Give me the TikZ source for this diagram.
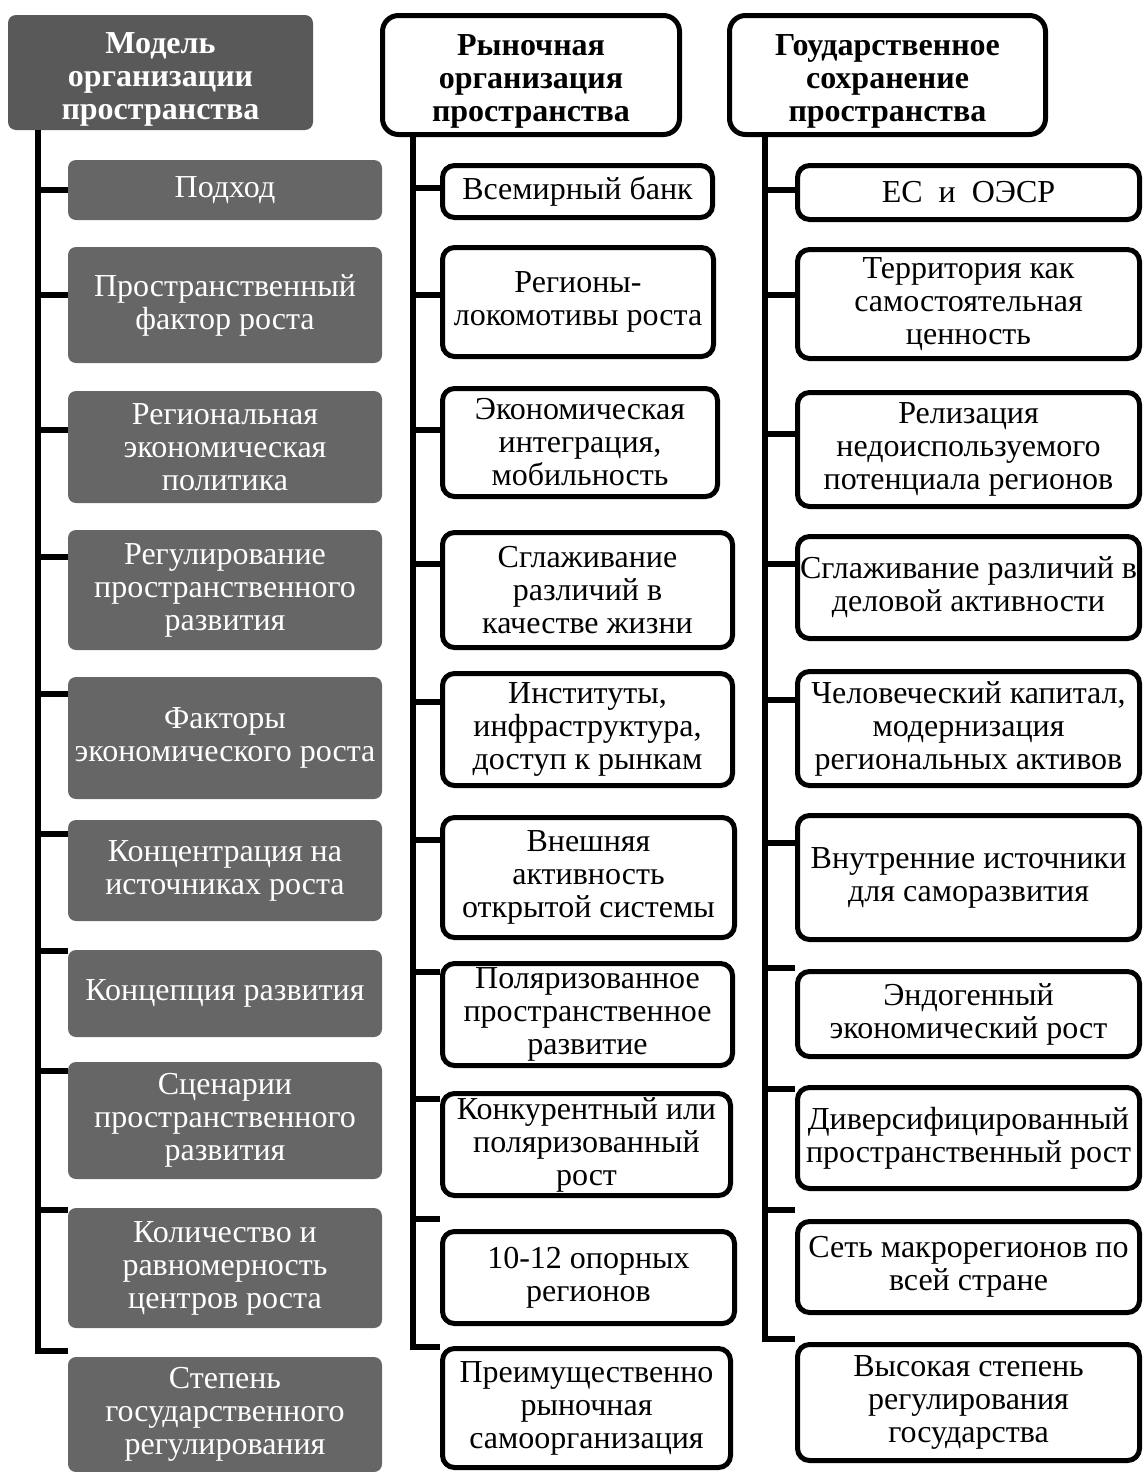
\documentclass[tikz,border=0pt]{standalone}
\usepackage{fontspec}
\setmainfont{Liberation Serif}
\definecolor{boxgrey}{RGB}{102,102,102}
\definecolor{headgrey}{RGB}{89,89,89}
\begin{document}
\begin{tikzpicture}[x=0.5pt,y=-0.5pt]
\tikzstyle{every node}+=[align=center,inner sep=0pt,font=\fontsize{16}{16.5}\selectfont]
\tikzstyle{gbox}=[fill=boxgrey,text=white,rounded corners=4pt]
\tikzstyle{ghead}=[gbox,fill=headgrey,font=\fontsize{16}{16.5}\selectfont\bfseries]
\tikzstyle{wbox}=[draw,line width=2.5pt,rounded corners=6pt]
\tikzstyle{whead}=[wbox,rounded corners=8pt,font=\fontsize{16}{16.5}\selectfont\bfseries]
\tikzstyle{trunk}=[line width=3pt]

\useasboundingbox (0,0) rectangle (1147,1472);

\node[ghead,minimum width=152.5pt,minimum height=57.5pt] (a0) at (160.5,72.5) {\rule{0pt}{17pt}Модель\\организации\\пространства};
\node[gbox,minimum width=157pt,minimum height=30pt]   (a1)  at (225,190)    {Подход};
\node[gbox,minimum width=157pt,minimum height=58pt]   (a2)  at (225,305)    {Пространственный\\фактор роста};
\node[gbox,minimum width=157pt,minimum height=56pt]   (a3)  at (225,447)    {Региональная\\экономическая\\политика};
\node[gbox,minimum width=157pt,minimum height=60pt]   (a4)  at (225,590)    {Регулирование\\пространственного\\развития};
\node[gbox,minimum width=157pt,minimum height=61pt]   (a5)  at (225,738)    {Факторы\\экономического роста};
\node[gbox,minimum width=157pt,minimum height=50.5pt] (a6)  at (225,870.5)  {Концентрация на\\источниках роста};
\node[gbox,minimum width=157pt,minimum height=43.5pt] (a7)  at (225,993.5)  {Концепция развития};
\node[gbox,minimum width=157pt,minimum height=58.5pt] (a8)  at (225,1120.5) {Сценарии\\пространственного\\развития};
\node[gbox,minimum width=157pt,minimum height=60pt]   (a9)  at (225,1268)   {Количество и\\равномерность\\центров роста};
\node[gbox,minimum width=157pt,minimum height=57.5pt] (a10) at (225,1414.5) {Степень\\государственного\\регулирования};

\node[whead,minimum width=148.5pt,minimum height=59.5pt] (b0) at (531,75) {\rule{0pt}{17pt}Рыночная\\организация\\пространства};
\node[wbox,minimum width=135pt,minimum height=26pt]   (b1)  at (577.5,191.5) {Всемирный банк};
\node[wbox,minimum width=135.5pt,minimum height=54.5pt] (b2) at (578,302)   {Регионы-\\локомотивы роста};
\node[wbox,minimum width=137.5pt,minimum height=54pt] (b3)  at (580,442.5)   {Экономическая\\интеграция,\\мобильность};
\node[wbox,minimum width=145pt,minimum height=57.5pt] (b4)  at (587.5,590)   {Сглаживание\\различий в\\качестве жизни};
\node[wbox,minimum width=145pt,minimum height=56pt]   (b5)  at (587.5,729.5) {Институты,\\инфраструктура,\\доступ к рынкам};
\node[wbox,minimum width=146pt,minimum height=60pt]   (b6)  at (588.5,877.5) {Внешняя\\активность\\открытой системы};
\node[wbox,minimum width=145pt,minimum height=51pt]   (b7)  at (587.5,1014.5) {Поляризованное\\пространственное\\развитие};
\node[wbox,minimum width=144pt,minimum height=51pt]   (b8)  at (586.5,1144.5) {Конкурентный или\\поляризованный\\рост};
\node[wbox,minimum width=146pt,minimum height=46pt]   (b9)  at (588.5,1277.5) {10-12 опорных\\регионов};
\node[wbox,minimum width=144pt,minimum height=59.5pt] (b10) at (586.5,1408)  {Преимущественно\\рыночная\\самоорганизация};

\node[whead,minimum width=158pt,minimum height=59.5pt] (c0) at (887.5,75) {\rule{0pt}{17pt}Гоударственное\\сохранение\\пространства};
\node[wbox,minimum width=171pt,minimum height=27pt]   (c1)  at (968.5,192.5) {ЕС\hspace{0.5em}и\hspace{0.5em}ОЭСР};
\node[wbox,minimum width=171pt,minimum height=54.5pt] (c2)  at (968.5,304)   {Территория как\\самостоятельная\\ценность};
\node[wbox,minimum width=171pt,minimum height=57pt]   (c3)  at (968.5,449.5) {Релизация\\недоиспользуемого\\потенциала регионов};
\node[wbox,minimum width=171pt,minimum height=51pt]   (c4)  at (968.5,587.5) {Сглаживание различий в\\деловой активности};
\node[wbox,minimum width=171pt,minimum height=57pt]   (c5)  at (968.5,728.5) {Человеческий капитал,\\модернизация\\региональных активов};
\node[wbox,minimum width=171pt,minimum height=62pt]   (c6)  at (968.5,877.5) {Внутренние источники\\для саморазвития};
\node[wbox,minimum width=171pt,minimum height=42.5pt] (c7)  at (968.5,1014)  {Эндогенный\\экономический рост};
\node[wbox,minimum width=171pt,minimum height=50.5pt] (c8)  at (968.5,1138)  {Диверсифицированный\\пространственный рост};
\node[wbox,minimum width=171pt,minimum height=45.5pt] (c9)  at (968.5,1267)  {Сеть макрорегионов по\\всей стране};
\node[wbox,minimum width=171pt,minimum height=58pt]   (c10) at (968.5,1402.5) {Высокая степень\\регулирования\\государства};

\coordinate (ta) at (38,0);
\coordinate (tb) at (413,0);
\coordinate (tc) at (765,0);

\draw[trunk] (a0.south -| ta) |- (a10.west |- 0,1351);
\draw[trunk] (b0.south -| tb) |- (b10.west |- 0,1347);
\draw[trunk] (c0.south -| tc) |- (c10.west |- 0,1339);
\foreach \n/\y in {1/190,2/295,3/430,4/557,5/694,6/834,7/951,8/1071,9/1210}
  \draw[trunk] (ta |- 0,\y) -- (a\n.west |- 0,\y);
\foreach \n/\y in {1/188,2/295,3/430,4/564,5/702,6/840,7/972,8/1099,9/1219}
  \draw[trunk] (tb |- 0,\y) -- (b\n.west |- 0,\y);
\foreach \n/\y in {1/190,2/295,3/434,4/564,5/700,6/843,7/968,8/1089,9/1210}
  \draw[trunk] (tc |- 0,\y) -- (c\n.west |- 0,\y);
\end{tikzpicture}
\end{document}
